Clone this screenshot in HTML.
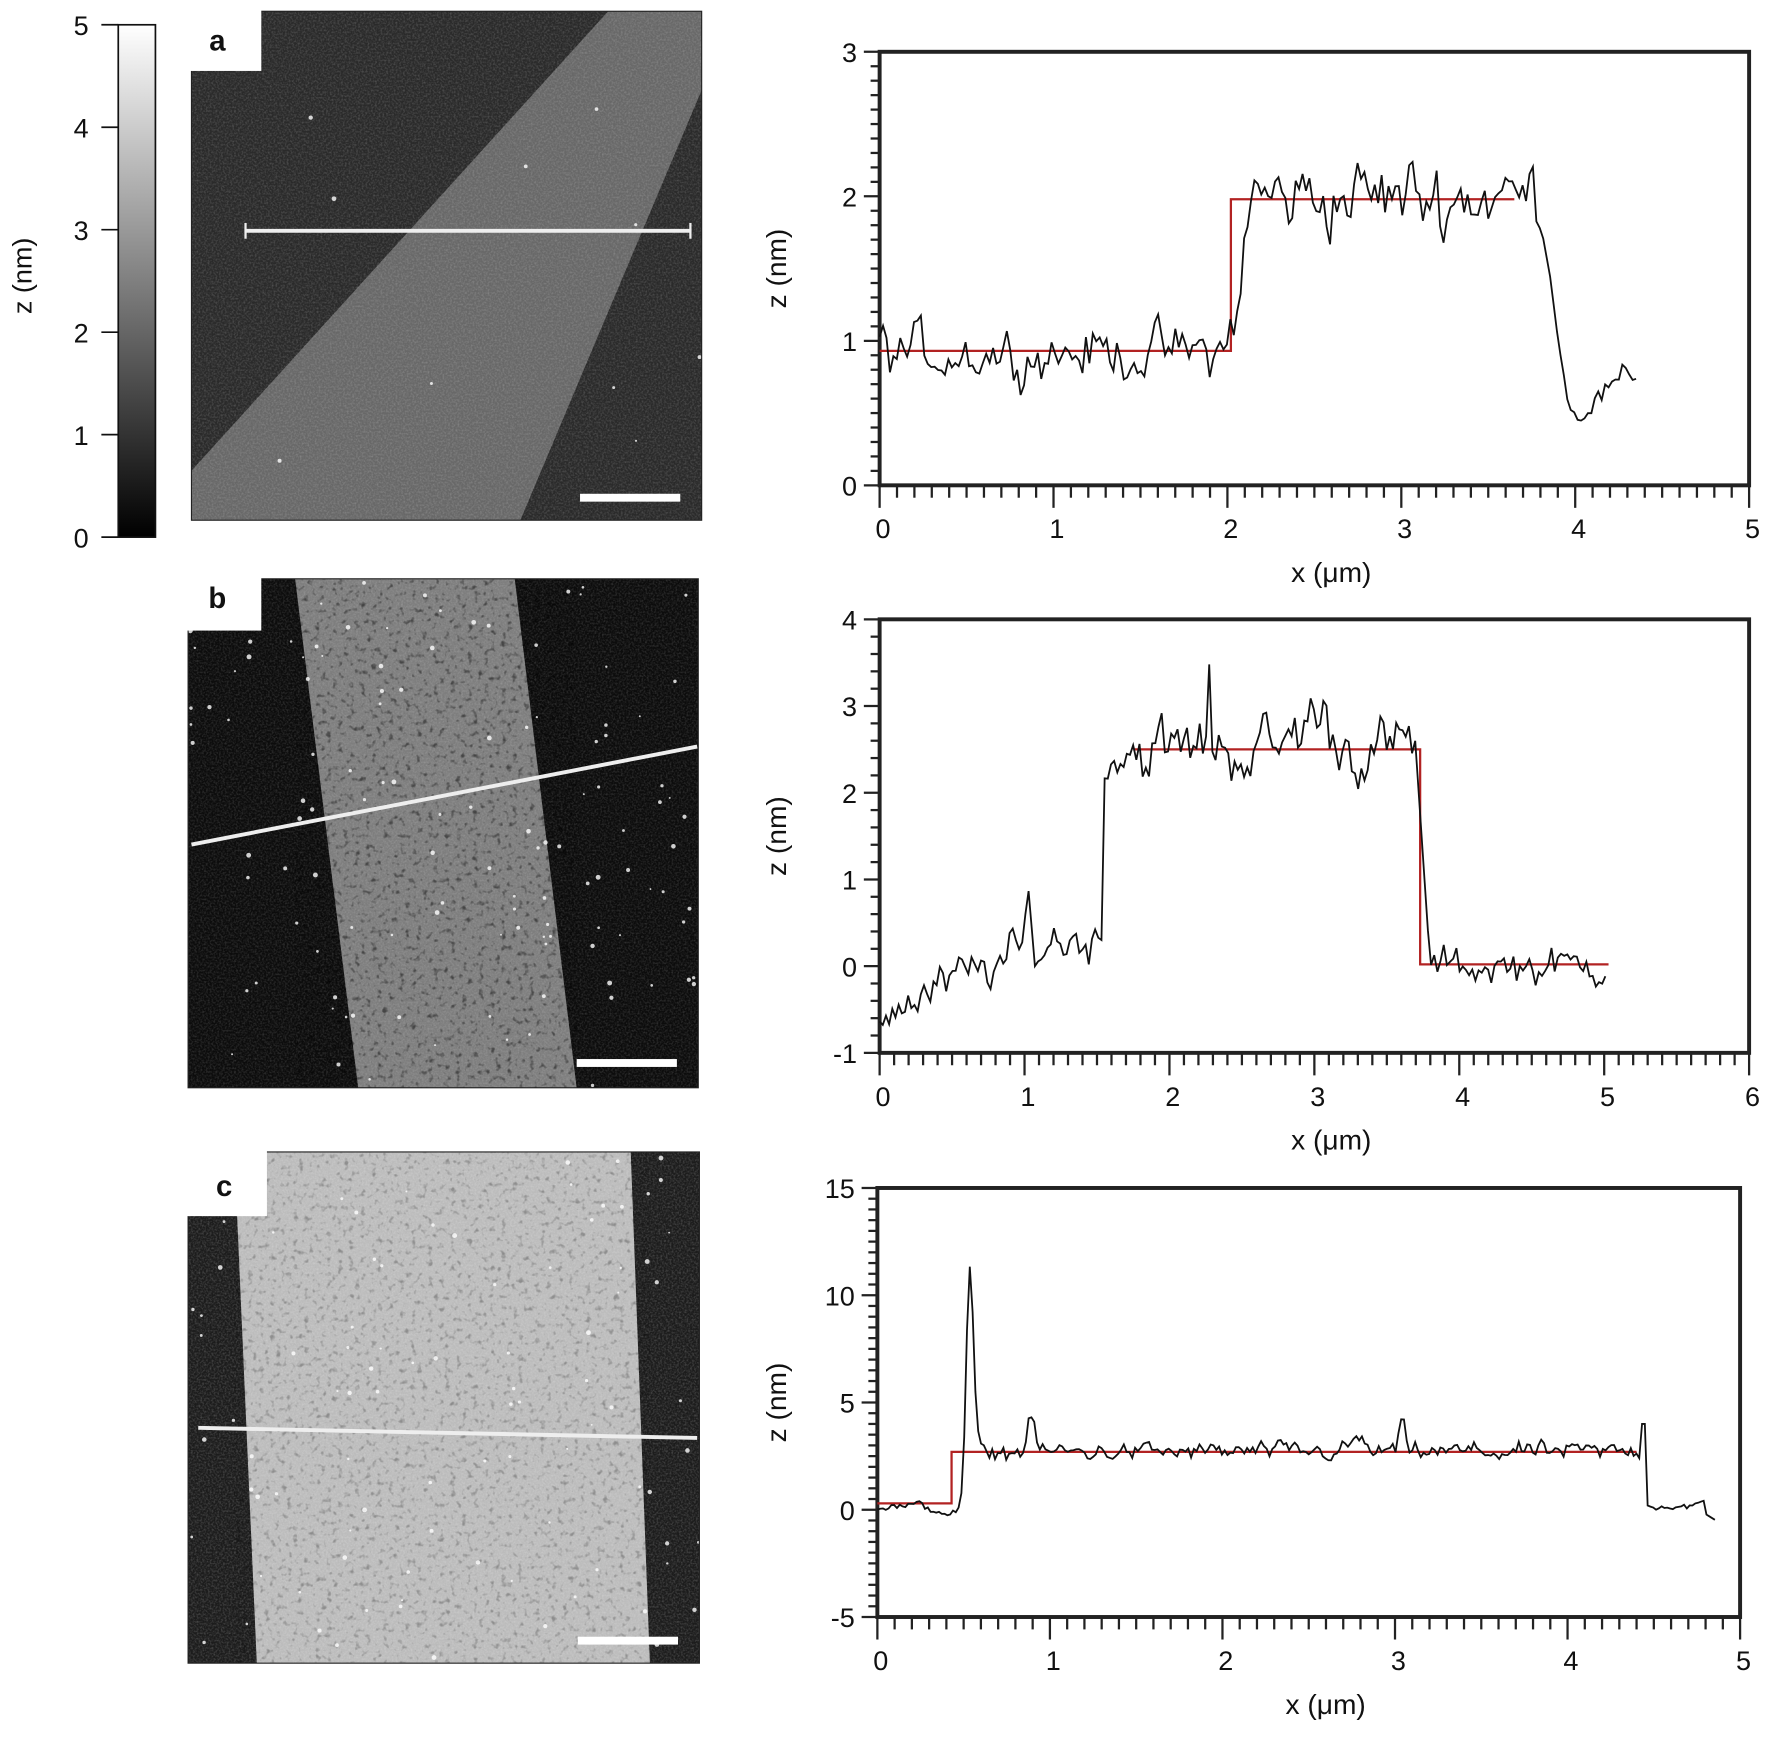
<!DOCTYPE html>
<html><head><meta charset="utf-8"><style>
html,body{margin:0;padding:0;background:#fff;}
svg{display:block}
text{font-family:"Liberation Sans Narrow","Liberation Sans",sans-serif;fill:#111}
</style></head><body>
<svg id="s" width="1766" height="1742" viewBox="0 0 1568 1547" preserveAspectRatio="none" xmlns="http://www.w3.org/2000/svg">
<defs>
<linearGradient id="cb" x1="0" y1="1" x2="0" y2="0"><stop offset="0" stop-color="#000"/><stop offset="1" stop-color="#fff"/></linearGradient>
<filter id="grain" x="0" y="0" width="100%" height="100%"><feTurbulence type="fractalNoise" baseFrequency="0.6" numOctaves="2" seed="3"/><feColorMatrix type="matrix" values="0 0 0 0 1  0 0 0 0 1  0 0 0 0 1  0 0 0 0.9 -0.35"/></filter>
<filter id="spots" x="0" y="0" width="100%" height="100%"><feTurbulence type="fractalNoise" baseFrequency="0.2" numOctaves="2" seed="7"/><feColorMatrix type="matrix" values="0 0 0 0 0  0 0 0 0 0  0 0 0 0 0  0 0 0 4 -2.3"/></filter>
</defs>
</svg>
<script>
var S=document.getElementById('s'),NS='http://www.w3.org/2000/svg';
function el(t,a,txt,p){var e=document.createElementNS(NS,t);for(var k in a)e.setAttribute(k,a[k]);if(txt!=null)e.textContent=txt;(p||S).appendChild(e);return e;}
var seed=12345;function rnd(){seed=(seed*1103515245+12345)%2147483648;return seed/2147483648;}
function gn(){return (rnd()+rnd()+rnd()-1.5)/0.9;}
var ar=0;function cn(){ar=0.55*ar+0.85*gn();return ar;}

el('rect',{x:105,y:22,width:33,height:455,fill:'url(#cb)',stroke:'#111','stroke-width':1.5});
for(var i=0;i<=5;i++){var y=477-i*91;el('line',{x1:90,y1:y,x2:105,y2:y,stroke:'#111','stroke-width':1.5});el('text',{x:72,y:y+9,'font-size':24,'text-anchor':'middle'},String(i));}
el('text',{x:28,y:245,'font-size':24,'text-anchor':'middle',transform:'rotate(-90 28 245)'},'z (nm)');

function image(x,y,w,h,bg,stripPts,stripCol,notch,letter,lx,ly,line,bar,grainOp,spotsOp,dots){
  var g=el('g',{});
  el('rect',{x:x,y:y,width:w,height:h,fill:bg},null,g);
  el('polygon',{points:stripPts,fill:stripCol},null,g);
  el('rect',{x:x,y:y,width:w,height:h,fill:'#fff',filter:'url(#grain)',opacity:grainOp},null,g);
  if(spotsOp) el('polygon',{points:stripPts,fill:'#000',filter:'url(#spots)',opacity:spotsOp},null,g);
  for(var i=0;i<dots;i++){el('circle',{cx:x+rnd()*w,cy:y+rnd()*h,r:0.8+rnd()*1.4,fill:'#fff',opacity:0.8},null,g);}
  el('rect',{x:x,y:y,width:w,height:h,fill:'none',stroke:'#222','stroke-width':1},null,g);
  el('rect',{x:notch[0],y:notch[1],width:notch[2],height:notch[3],fill:'#fff'},null,g);
  el('text',{x:lx,y:ly,'font-size':26,'font-weight':'bold','text-anchor':'middle','font-family':'Liberation Sans'},letter,g);
  el('line',{x1:line[0],y1:line[1],x2:line[2],y2:line[3],stroke:'#eee','stroke-width':3.5},null,g);
  el('rect',{x:bar[0],y:bar[1]-3.5,width:bar[2]-bar[0],height:7,fill:'#fff'},null,g);
}
image(170,10,453,452,'#2a2a2a','540,10 623,10 623,80 462,462 170,462 170,418','#686868',[168,8,64,55],'a',193,45,[218,205,613,205],[515,442,604],0.4,0,10);
el('line',{x1:218,y1:198,x2:218,y2:212,stroke:'#eee','stroke-width':2});el('line',{x1:613,y1:198,x2:613,y2:212,stroke:'#eee','stroke-width':2});
image(167,514,453,452,'#0c0c0c','262,514 457,514 512,966 318,966','#7e7e7e',[165,512,67,48],'b',193,540,[170,750,619,663],[512,944,601],0.35,0.45,120);
image(167,1023,454,454,'#1c1c1c','208,1023 560,1023 577,1477 228,1477','#bcbcbc',[165,1021,72,59],'c',199,1062,[176,1268,619,1277],[513,1457,602],0.45,0.25,90);

function plot(o){
  ar=0;
  var X=function(v){return o.x0+(v-o.xa)/(o.xb-o.xa)*(o.x1-o.x0);};
  var Y=function(v){return o.y1-(v-o.ya)/(o.yb-o.ya)*(o.y1-o.y0);};
  el('rect',{x:o.x0,y:o.y0,width:o.x1-o.x0,height:o.y1-o.y0,fill:'none',stroke:'#222','stroke-width':3.5});
  var n=Math.round((o.yb-o.ya)/o.ym);
  for(var i=0;i<=n;i++){var v=o.ya+i*o.ym,y=Y(v),maj=Math.abs(v/o.yM-Math.round(v/o.yM))<1e-6;
    el('line',{x1:o.x0-(maj?14:8),y1:y,x2:o.x0,y2:y,stroke:'#222','stroke-width':2});
    if(maj)el('text',{x:o.x0-20,y:y+9,'font-size':24,'text-anchor':'end'},String(Math.round(v)));}
  n=Math.round((o.xb-o.xa)/o.xm);
  for(var i=0;i<=n;i++){var v=o.xa+i*o.xm,x=X(v),maj=Math.abs(v/o.xM-Math.round(v/o.xM))<1e-6;
    el('line',{x1:x,y1:o.y1,x2:x,y2:o.y1+(maj?20:11),stroke:'#222','stroke-width':2});
    if(maj)el('text',{x:x+3,y:o.y1+47,'font-size':24,'text-anchor':'middle'},String(Math.round(v)));}
  el('text',{x:(o.x0+o.x1)/2+15,y:o.y1+86,'font-size':25,'text-anchor':'middle'},'x (\u03bcm)');
  var cy=(o.y0+o.y1)/2;
  el('text',{x:698,y:cy,'font-size':25,'text-anchor':'middle',transform:'rotate(-90 698 '+cy+')'},'z (nm)');
  el('polyline',{points:o.red.map(function(p){return X(p[0])+','+Y(p[1]);}).join(' '),fill:'none',stroke:'#b22222','stroke-width':2});
  var pts=[];for(var v=0;v<=o.xe;v+=o.xe/o.np){pts.push(X(v)+','+Y(o.f(v)));}
  el('polyline',{points:pts.join(' '),fill:'none',stroke:'#111','stroke-width':1.6});
}
function sm(a,b,t){return t<=a?0:t>=b?1:(t-a)/(b-a);}
function gs(x,c,w){return Math.exp(-Math.pow((x-c)/w,2));}
plot({x0:781,x1:1553,y0:46,y1:431,xa:0,xb:5,ya:0,yb:3,xM:1,xm:0.1,yM:1,ym:0.1,xe:4.35,np:220,
 red:[[0,0.93],[2.02,0.93],[2.02,1.98],[3.65,1.98]],
 f:function(x){var n=cn();if(x<2.0)return 0.92+0.17*n;if(x<3.8){var b=0.93+1.07*sm(2.0,2.15,x);return b+0.25*n;}
  if(x<3.97)return 1.9-1.4*sm(3.8,3.97,x)+0.05*n;return 0.5+0.25*sm(3.97,4.35,x)+0.1*n;}});
plot({x0:781,x1:1553,y0:550,y1:935,xa:0,xb:6,ya:-1,yb:4,xM:1,xm:0.1,yM:1,ym:0.2,xe:5.03,np:230,
 red:[[1.75,2.5],[3.73,2.5],[3.73,0.02],[5.03,0.02]],
 f:function(x){var n=cn();if(x<1.55)return -0.55+0.85*Math.min(1,x/1.2)+0.25*n+0.6*gs(x,1.02,0.02);
  if(x<3.7)return 2.5+0.35*n+1.3*gs(x,2.27,0.015)+0.4*gs(x,3.0,0.15);if(x<3.8)return 2.5-2.5*sm(3.7,3.8,x);return 0.0+0.2*n;}});
plot({x0:779,x1:1545,y0:1055,y1:1436,xa:0,xb:5,ya:-5,yb:15,xM:1,xm:0.1,yM:5,ym:0.5,xe:4.87,np:300,
 red:[[0,0.3],[0.43,0.3],[0.43,2.7],[4.4,2.7]],
 f:function(x){var n=cn();if(x<0.46)return 0.15-0.3*sm(0.25,0.42,x)+0.2*n;
  if(x<0.62)return 0.0+10*gs(x,0.535,0.03)+3*sm(0.5,0.58,x);
  if(x<4.43)return 2.7+0.4*n+1.8*gs(x,0.89,0.025)+1.4*gs(x,3.04,0.02)+0.6*gs(x,2.78,0.05);if(x<4.46)return 4;if(x<4.8)return 0.2+0.2*n;return -0.2-5*(x-4.8);}});
</script>
</body></html>
